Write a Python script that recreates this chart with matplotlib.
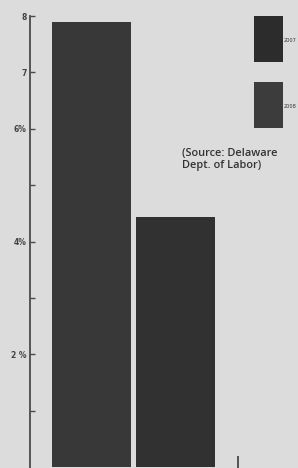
import matplotlib
matplotlib.use("Agg")
import matplotlib.pyplot as plt
from matplotlib.patches import Rectangle

# Data
years = ["2007", "2008"]
rates = [7.9, 4.43]
bar_colors = ["#383838", "#313131"]
legend_colors = ["#2c2c2c", "#3c3c3c"]
ytick_vals = [1, 2, 3, 4, 5, 6, 7, 8]
ytick_labels = ["", "2 %", "", "4%", "", "6%", "7", "8"]
source = "(Source: Delaware\nDept. of Labor)"

W, H = 298, 468
fig = plt.figure(figsize=(W / 100, H / 100), dpi=100)
bg = "#dcdcdc"
fig.patch.set_facecolor(bg)

ax = fig.add_axes([29.5 / W, 0, 1 - 29.5 / W, 1])
ax.set_facecolor(bg)
x = list(range(len(years)))
ax.bar(x, rates, width=0.93, color=bar_colors, edgecolor="none")
ax.set_xlim(-0.738, 2.458)
ax.set_ylim(-0.018, 8.286)

for s in ["top", "right", "bottom"]:
    ax.spines[s].set_visible(False)
ax.spines["left"].set_color("#4a4a4a")
ax.spines["left"].set_linewidth(1.3)
ax.spines["left"].set_bounds(-0.018, 8.0)

ax.set_yticks(ytick_vals)
ax.set_yticklabels(ytick_labels, fontsize=5.5, fontweight="bold", color="#444444",
                   family=["DejaVu Sans"])
ax.tick_params(axis="y", direction="in", length=3.5, width=1.0, color="#4a4a4a", pad=2)
ax.set_xticks([1.74])
ax.set_xticklabels([""])
ax.tick_params(axis="x", direction="in", length=9, width=1.2, color="#3a3a3a")

# Legend squares
for i, (lab, c) in enumerate(zip(years, legend_colors)):
    top = 16 + i * 66
    fig.patches.append(Rectangle((254 / W, 1 - (top + 46) / H), 29 / W, 46 / H,
                                 transform=fig.transFigure, facecolor=c, edgecolor="none"))
    fig.text(284 / W, 1 - (top + 24) / H, lab, fontsize=3.6,
             color="#333333", va="center", ha="left")

fig.text(182 / W, 1 - 148 / H, source, fontsize=7.9, color="#333333", va="top", ha="left",
         family=["Open Sans"], fontweight="semibold", linespacing=1.1)

fig.savefig("out.png", dpi=100, facecolor=bg)
